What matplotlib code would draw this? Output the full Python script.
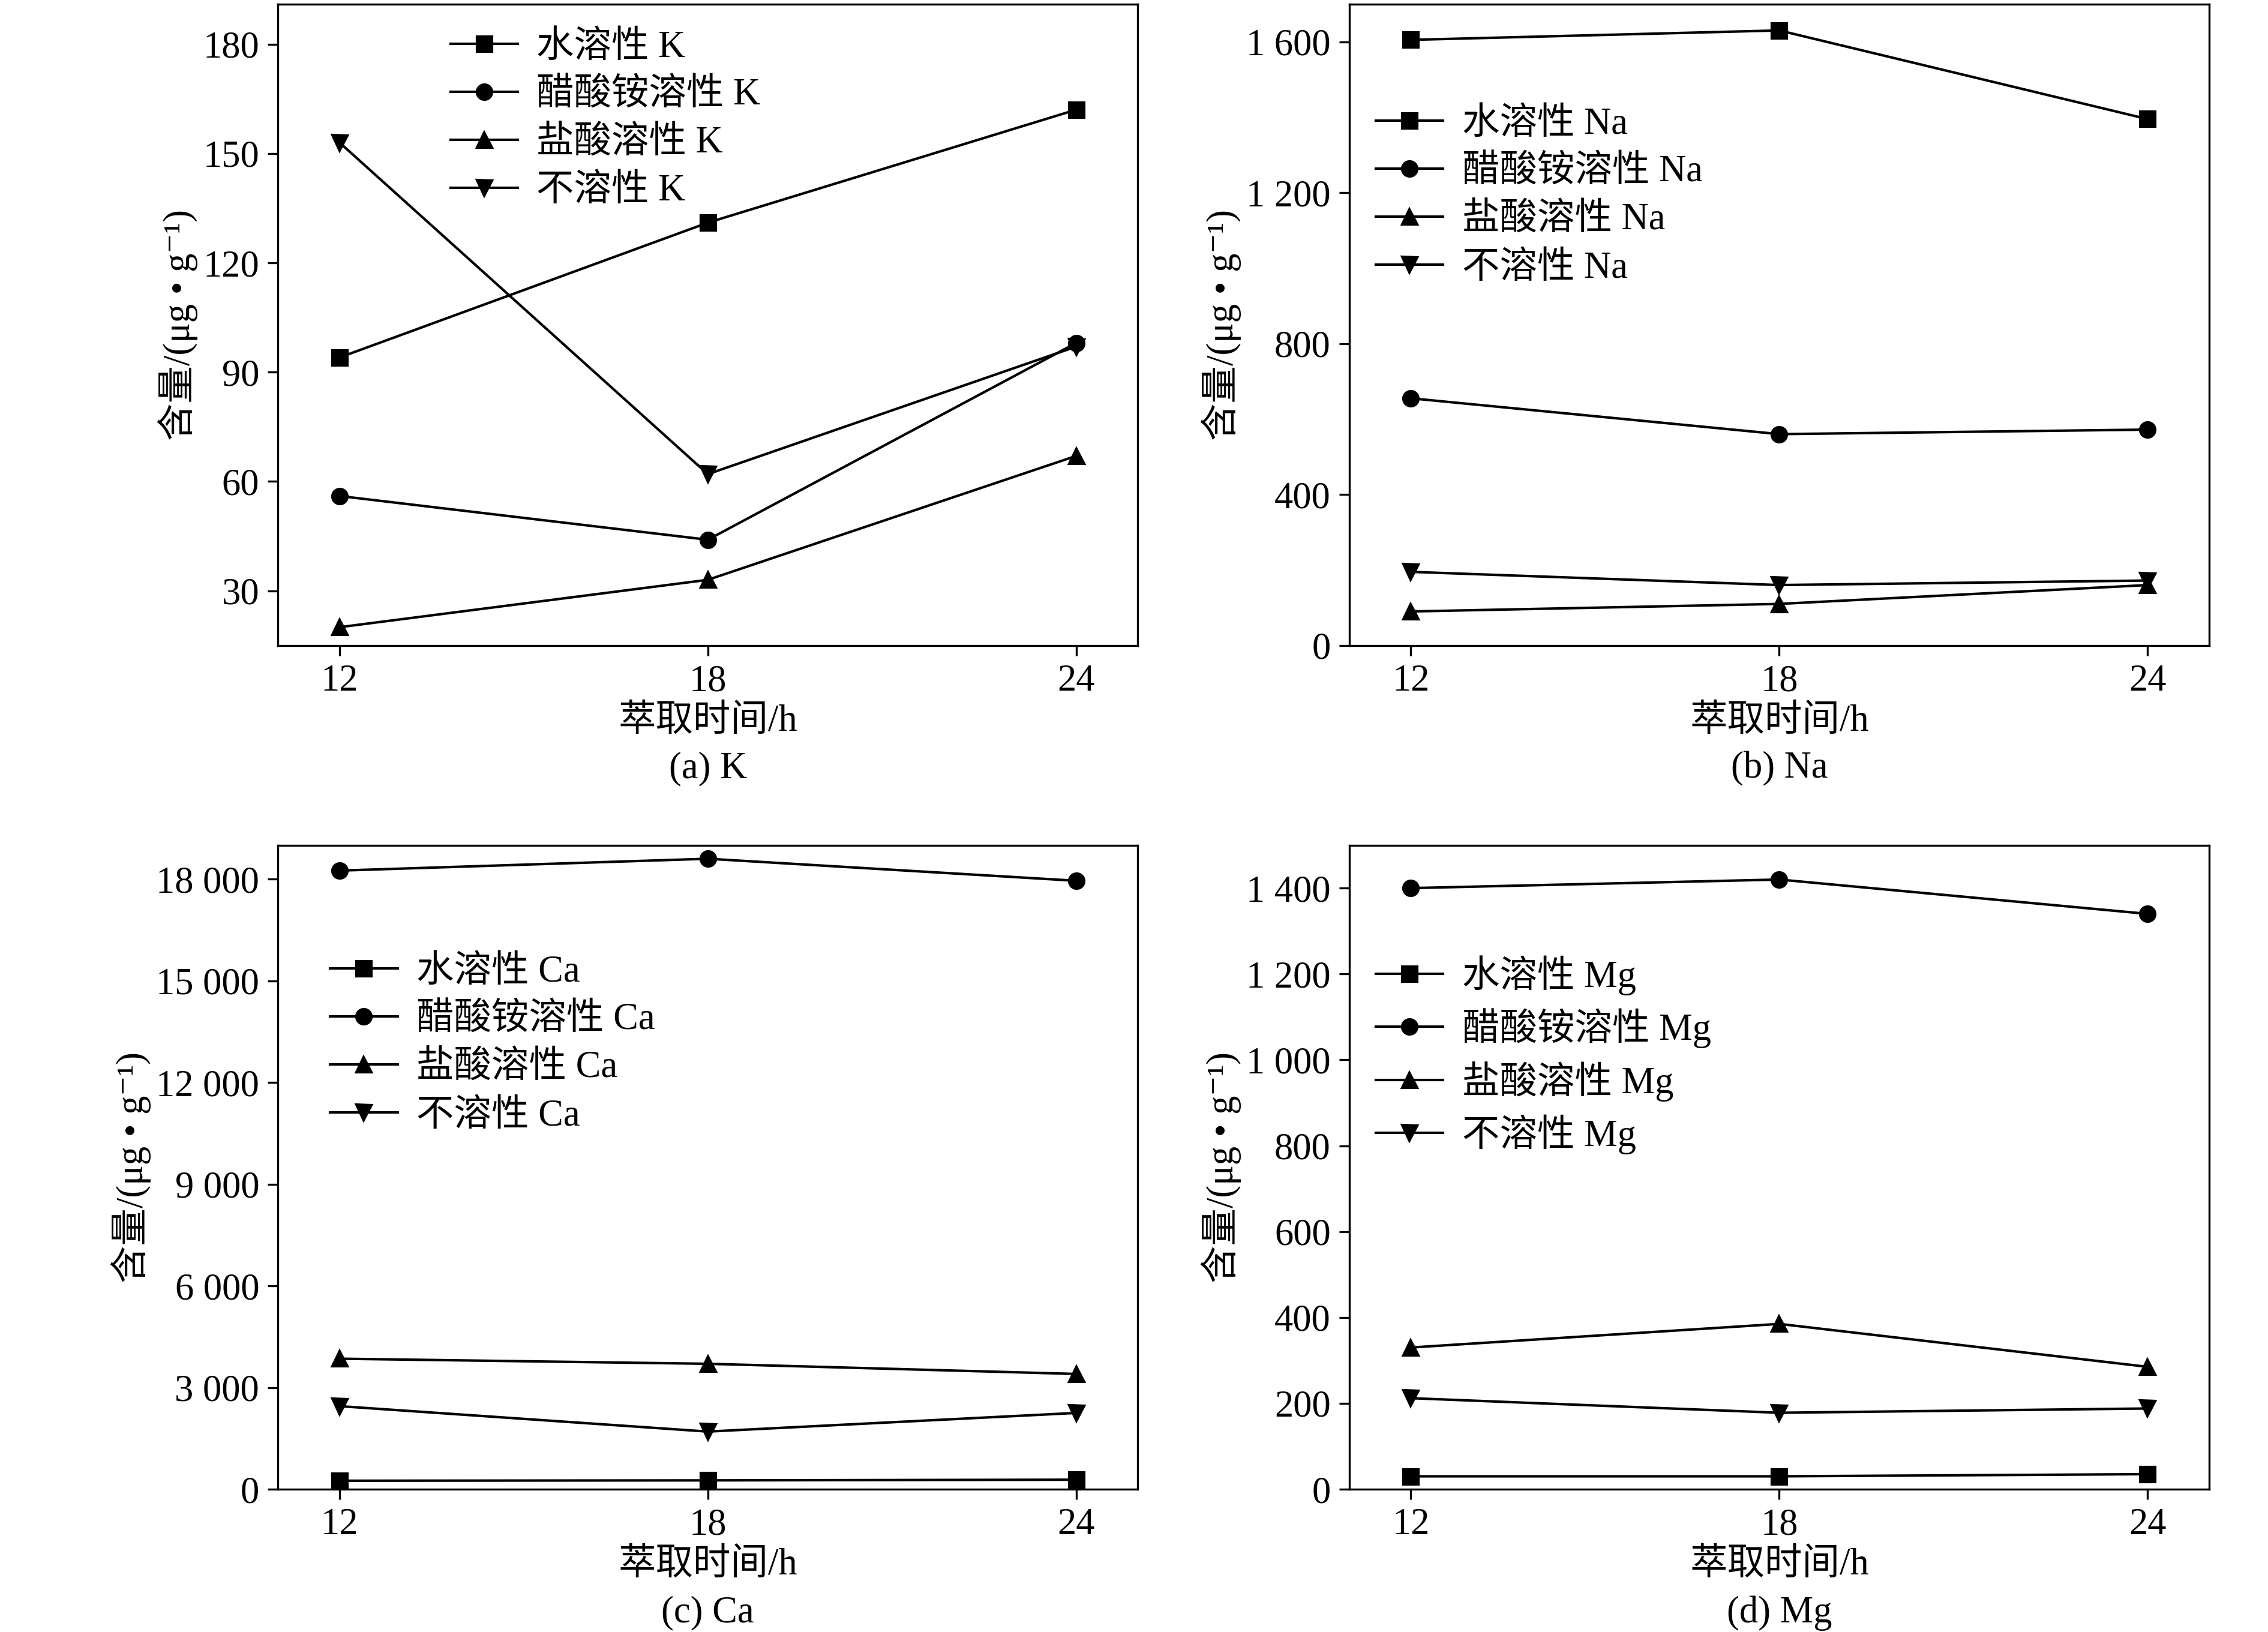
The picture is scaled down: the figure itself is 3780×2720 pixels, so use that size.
import matplotlib
matplotlib.use("Agg")
import matplotlib.pyplot as plt
from matplotlib.ticker import FuncFormatter

plt.rcParams['font.family'] = ['Liberation Serif', 'Noto Sans CJK SC', 'DejaVu Serif']

times = [12, 18, 24]

k_water = [94, 131, 162]
k_acetate = [56, 44, 98]
k_hcl = [20, 33, 67]
k_insol = [153, 62, 97]

na_water = [1605, 1630, 1395]
na_acetate = [655, 560, 572]
na_hcl = [90, 110, 160]
na_insol = [195, 160, 172]

ca_water = [250, 260, 280]
ca_acetate = [18250, 18600, 17950]
ca_hcl = [3850, 3700, 3400]
ca_insol = [2450, 1700, 2250]

mg_water = [30, 30, 35]
mg_acetate = [1400, 1420, 1340]
mg_hcl = [330, 385, 285]
mg_insol = [212, 178, 188]

prefixes = ['水溶性', '醋酸铵溶性', '盐酸溶性', '不溶性']
markers = ['s', 'o', '^', 'v']

panels = [
    ('K', [k_water, k_acetate, k_hcl, k_insol], (15, 191), [30, 60, 90, 120, 150, 180],
     [0.1226, 0.6045, 0.379, 0.393], (0.17, 1.0)),
    ('Na', [na_water, na_acetate, na_hcl, na_insol], (0, 1700), [0, 400, 800, 1200, 1600],
     [0.595, 0.6045, 0.379, 0.393], (0.0, 0.88)),
    ('Ca', [ca_water, ca_acetate, ca_hcl, ca_insol], (0, 19000), list(range(0, 18001, 3000)),
     [0.1226, 0.0875, 0.379, 0.3946], (0.03, 0.87)),
    ('Mg', [mg_water, mg_acetate, mg_hcl, mg_insol], (0, 1500), list(range(0, 1401, 200)),
     [0.595, 0.0875, 0.379, 0.3946], (0.0, 0.87)),
]

def thousands(v, pos):
    return '{:,}'.format(int(v)).replace(',', ' ')

fig = plt.figure(figsize=(12.6, 9.067), dpi=300)
for i, (el, series, ylim, yticks, rect, legpos) in enumerate(panels):
    ax = fig.add_axes(rect)
    for s, m, p in zip(series, markers, prefixes):
        ax.plot(times, s, color='black', marker=m, markersize=6, linewidth=1.0,
                label=p + ' ' + el)
    ax.set_xlim(11, 25)
    ax.set_ylim(*ylim)
    ax.set_xticks(times)
    ax.set_yticks(yticks)
    ax.yaxis.set_major_formatter(FuncFormatter(thousands))
    ax.tick_params(labelsize=15, direction='out', length=4)
    ax.set_xlabel('萃取时间/h', fontsize=15, labelpad=2)
    ax.set_ylabel('含量/(μg • g⁻¹)', fontsize=15, labelpad=2)
    ax.text(0.5, -0.165, '(%s) %s' % ('abcd'[i], el), transform=ax.transAxes,
            ha='center', va='top', fontsize=15)
    ax.legend(loc='upper left', bbox_to_anchor=legpos, frameon=False, fontsize=15,
              handlelength=1.8, handletextpad=0.5, labelspacing=0.35, borderaxespad=0.3)

fig.savefig('out.png', dpi=300)
